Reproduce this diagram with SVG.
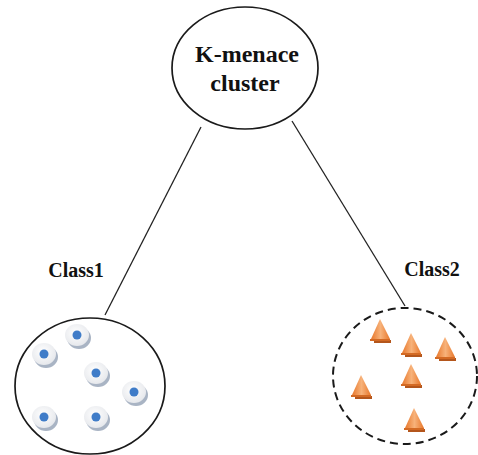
<svg xmlns="http://www.w3.org/2000/svg" width="478" height="455" viewBox="0 0 478 455">
  <defs>
    <radialGradient id="discFill" cx="0.45" cy="0.4" r="0.6">
      <stop offset="0" stop-color="#ffffff"/>
      <stop offset="1" stop-color="#e6e8ec"/>
    </radialGradient>
    <linearGradient id="coneFill" x1="0" y1="0" x2="1" y2="0">
      <stop offset="0" stop-color="#e8782c"/>
      <stop offset="0.5" stop-color="#f7b27a"/>
      <stop offset="1" stop-color="#e8782c"/>
    </linearGradient>
    <!-- white disc with blue core -->
    <g id="dot">
      <ellipse cx="2" cy="3" rx="12" ry="11" fill="#a9b4c4"/>
      <ellipse cx="0" cy="0" rx="12" ry="11" fill="url(#discFill)"/>
      <circle cx="0" cy="0" r="4.5" fill="#3f7cc8"/>
    </g>
    <!-- orange cone with darker base band -->
    <g id="cone">
      <path d="M-6,10 L11,10 L11,13 L-6,13 Z" fill="#b4561c"/>
      <path d="M0,-11 L-9,9 L10,9 Z" fill="url(#coneFill)"/>
      <path d="M-10,9 L10,9 L10,11 L-10,11 Z" fill="#d36a24"/>
    </g>
  </defs>
  <style>
    .node { fill: #ffffff; stroke: #1a1a1a; stroke-width: 1.7; }
    .dashed { stroke-width: 2; stroke-dasharray: 8 5; }
    .edge { stroke: #222222; stroke-width: 1.3; fill: none; }
    .title { font-family: "Liberation Serif", serif; font-weight: bold; font-size: 24px; fill: #111111; text-anchor: middle; }
    .label { font-family: "Liberation Serif", serif; font-weight: bold; font-size: 20px; fill: #111111; text-anchor: middle; }
  </style>

  <g id="connectors">
    <line class="edge" x1="201" y1="127" x2="105" y2="315"/>
    <line class="edge" x1="292" y1="121" x2="405" y2="306"/>
  </g>

  <g id="root">
    <ellipse class="node" cx="245" cy="68" rx="73" ry="61"/>
    <text class="title" x="247" y="62">K-menace</text>
    <text class="title" x="245" y="91">cluster</text>
  </g>

  <g id="class1">
    <text class="label" x="76" y="277">Class1</text>
    <ellipse class="node" cx="90" cy="386" rx="75" ry="68"/>
    <use href="#dot" x="77" y="335"/>
    <use href="#dot" x="44" y="354"/>
    <use href="#dot" x="96" y="373"/>
    <use href="#dot" x="134" y="392"/>
    <use href="#dot" x="44" y="417"/>
    <use href="#dot" x="96" y="417"/>
  </g>

  <g id="class2">
    <text class="label" x="432" y="276">Class2</text>
    <ellipse class="node dashed" cx="405" cy="376" rx="72" ry="68"/>
    <use href="#cone" x="380" y="330"/>
    <use href="#cone" x="411" y="344"/>
    <use href="#cone" x="445" y="348"/>
    <use href="#cone" x="411" y="375"/>
    <use href="#cone" x="361" y="386"/>
    <use href="#cone" x="414" y="419"/>
  </g>
</svg>
